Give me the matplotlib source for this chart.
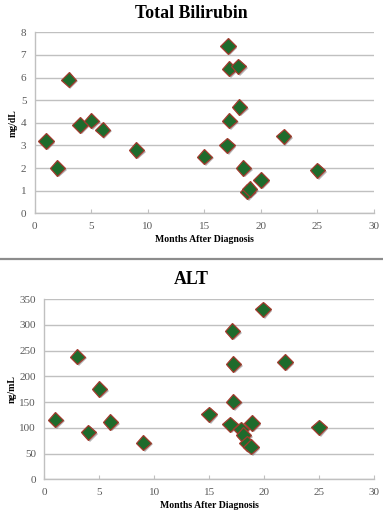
import matplotlib.pyplot as plt
import matplotlib.patheffects as pe
from matplotlib.lines import Line2D

# Total Bilirubin (mg/dL) vs months after diagnosis
bili_months = [1, 2, 3, 4, 5, 6, 9, 15, 17.0, 17.1, 17.2, 17.2, 18.0, 18.1, 18.45, 18.8, 19.0, 20, 22, 25]
bili_values = [3.2, 2.0, 5.9, 3.9, 4.1, 3.7, 2.8, 2.5, 3.0, 7.4, 6.4, 4.1, 6.5, 4.7, 2.0, 0.95, 1.07, 1.47, 3.4, 1.9]

# ALT (ng/mL) vs months after diagnosis
alt_months = [1, 3, 4, 5, 6, 9, 15, 16.9, 17.1, 17.2, 17.2, 17.9, 18.1, 18.4, 18.8, 18.9, 19.9, 21.9, 25]
alt_values = [116, 238, 91, 175, 111, 71, 126, 107, 288, 224, 151, 97, 86, 70, 63, 109, 330, 228, 101]

serif = 'Liberation Serif'
tick_col = '#595959'
grid_col = '#c0c0c0'


def draw_panel(ax, x, y, ymax, ystep, ylabel):
    ax.plot(x, y, linestyle='none', marker='D', markersize=7.8,
            markerfacecolor='#1e6b2c', markeredgecolor='#a33a2e', markeredgewidth=0.9,
            path_effects=[pe.SimplePatchShadow(offset=(1.2, -1.2), shadow_rgbFace='#777777', alpha=0.55),
                          pe.Normal()],
            zorder=3, clip_on=False)

    ax.set_xlim(0, 30)
    ax.set_ylim(0, ymax)
    ax.set_xticks(range(0, 31, 5))
    ax.set_yticks(range(0, ymax + 1, ystep))
    ax.yaxis.grid(True, color=grid_col, linewidth=1.0)
    ax.set_axisbelow(True)

    for side in ['top', 'right']:
        ax.spines[side].set_visible(False)
    for side in ['left', 'bottom']:
        ax.spines[side].set_color(grid_col)
        ax.spines[side].set_linewidth(1.0)

    ax.tick_params(axis='x', direction='in', length=3, color=grid_col, pad=6,
                   labelsize=8, labelcolor=tick_col)
    ax.tick_params(axis='y', length=0, pad=6, labelsize=8, labelcolor=tick_col)
    for lab in ax.get_xticklabels() + ax.get_yticklabels():
        lab.set_fontfamily(serif)

    ax.set_xlabel('Months After Diagnosis', fontfamily=serif, fontweight='bold', fontsize=7, labelpad=3)
    ax.set_ylabel(ylabel, fontfamily=serif, fontweight='bold', fontsize=7, labelpad=2)


fig = plt.figure(figsize=(3.83, 5.12), dpi=100)

ax1 = fig.add_axes([0.0905, 0.5834, 0.886, 0.3535])
draw_panel(ax1, bili_months, bili_values, 8, 1, 'mg/dL')

ax2 = fig.add_axes([0.1157, 0.0639, 0.8608, 0.3521])
draw_panel(ax2, alt_months, alt_values, 350, 50, 'ng/mL')

# chart titles sit centred on the whole figure
fig.text(0.5, 1 - 14 / 512, 'Total Bilirubin', ha='center', va='center',
         fontfamily=serif, fontweight='bold', fontsize=12.8)
fig.text(0.5, 1 - 280 / 512, 'ALT', ha='center', va='center',
         fontfamily=serif, fontweight='bold', fontsize=12.8)

# separator between the two charts
fig.add_artist(Line2D([0, 1], [0.494, 0.494], transform=fig.transFigure,
                      color='#8c8c8c', linewidth=1.6))

fig.savefig('out.png', dpi=100)
